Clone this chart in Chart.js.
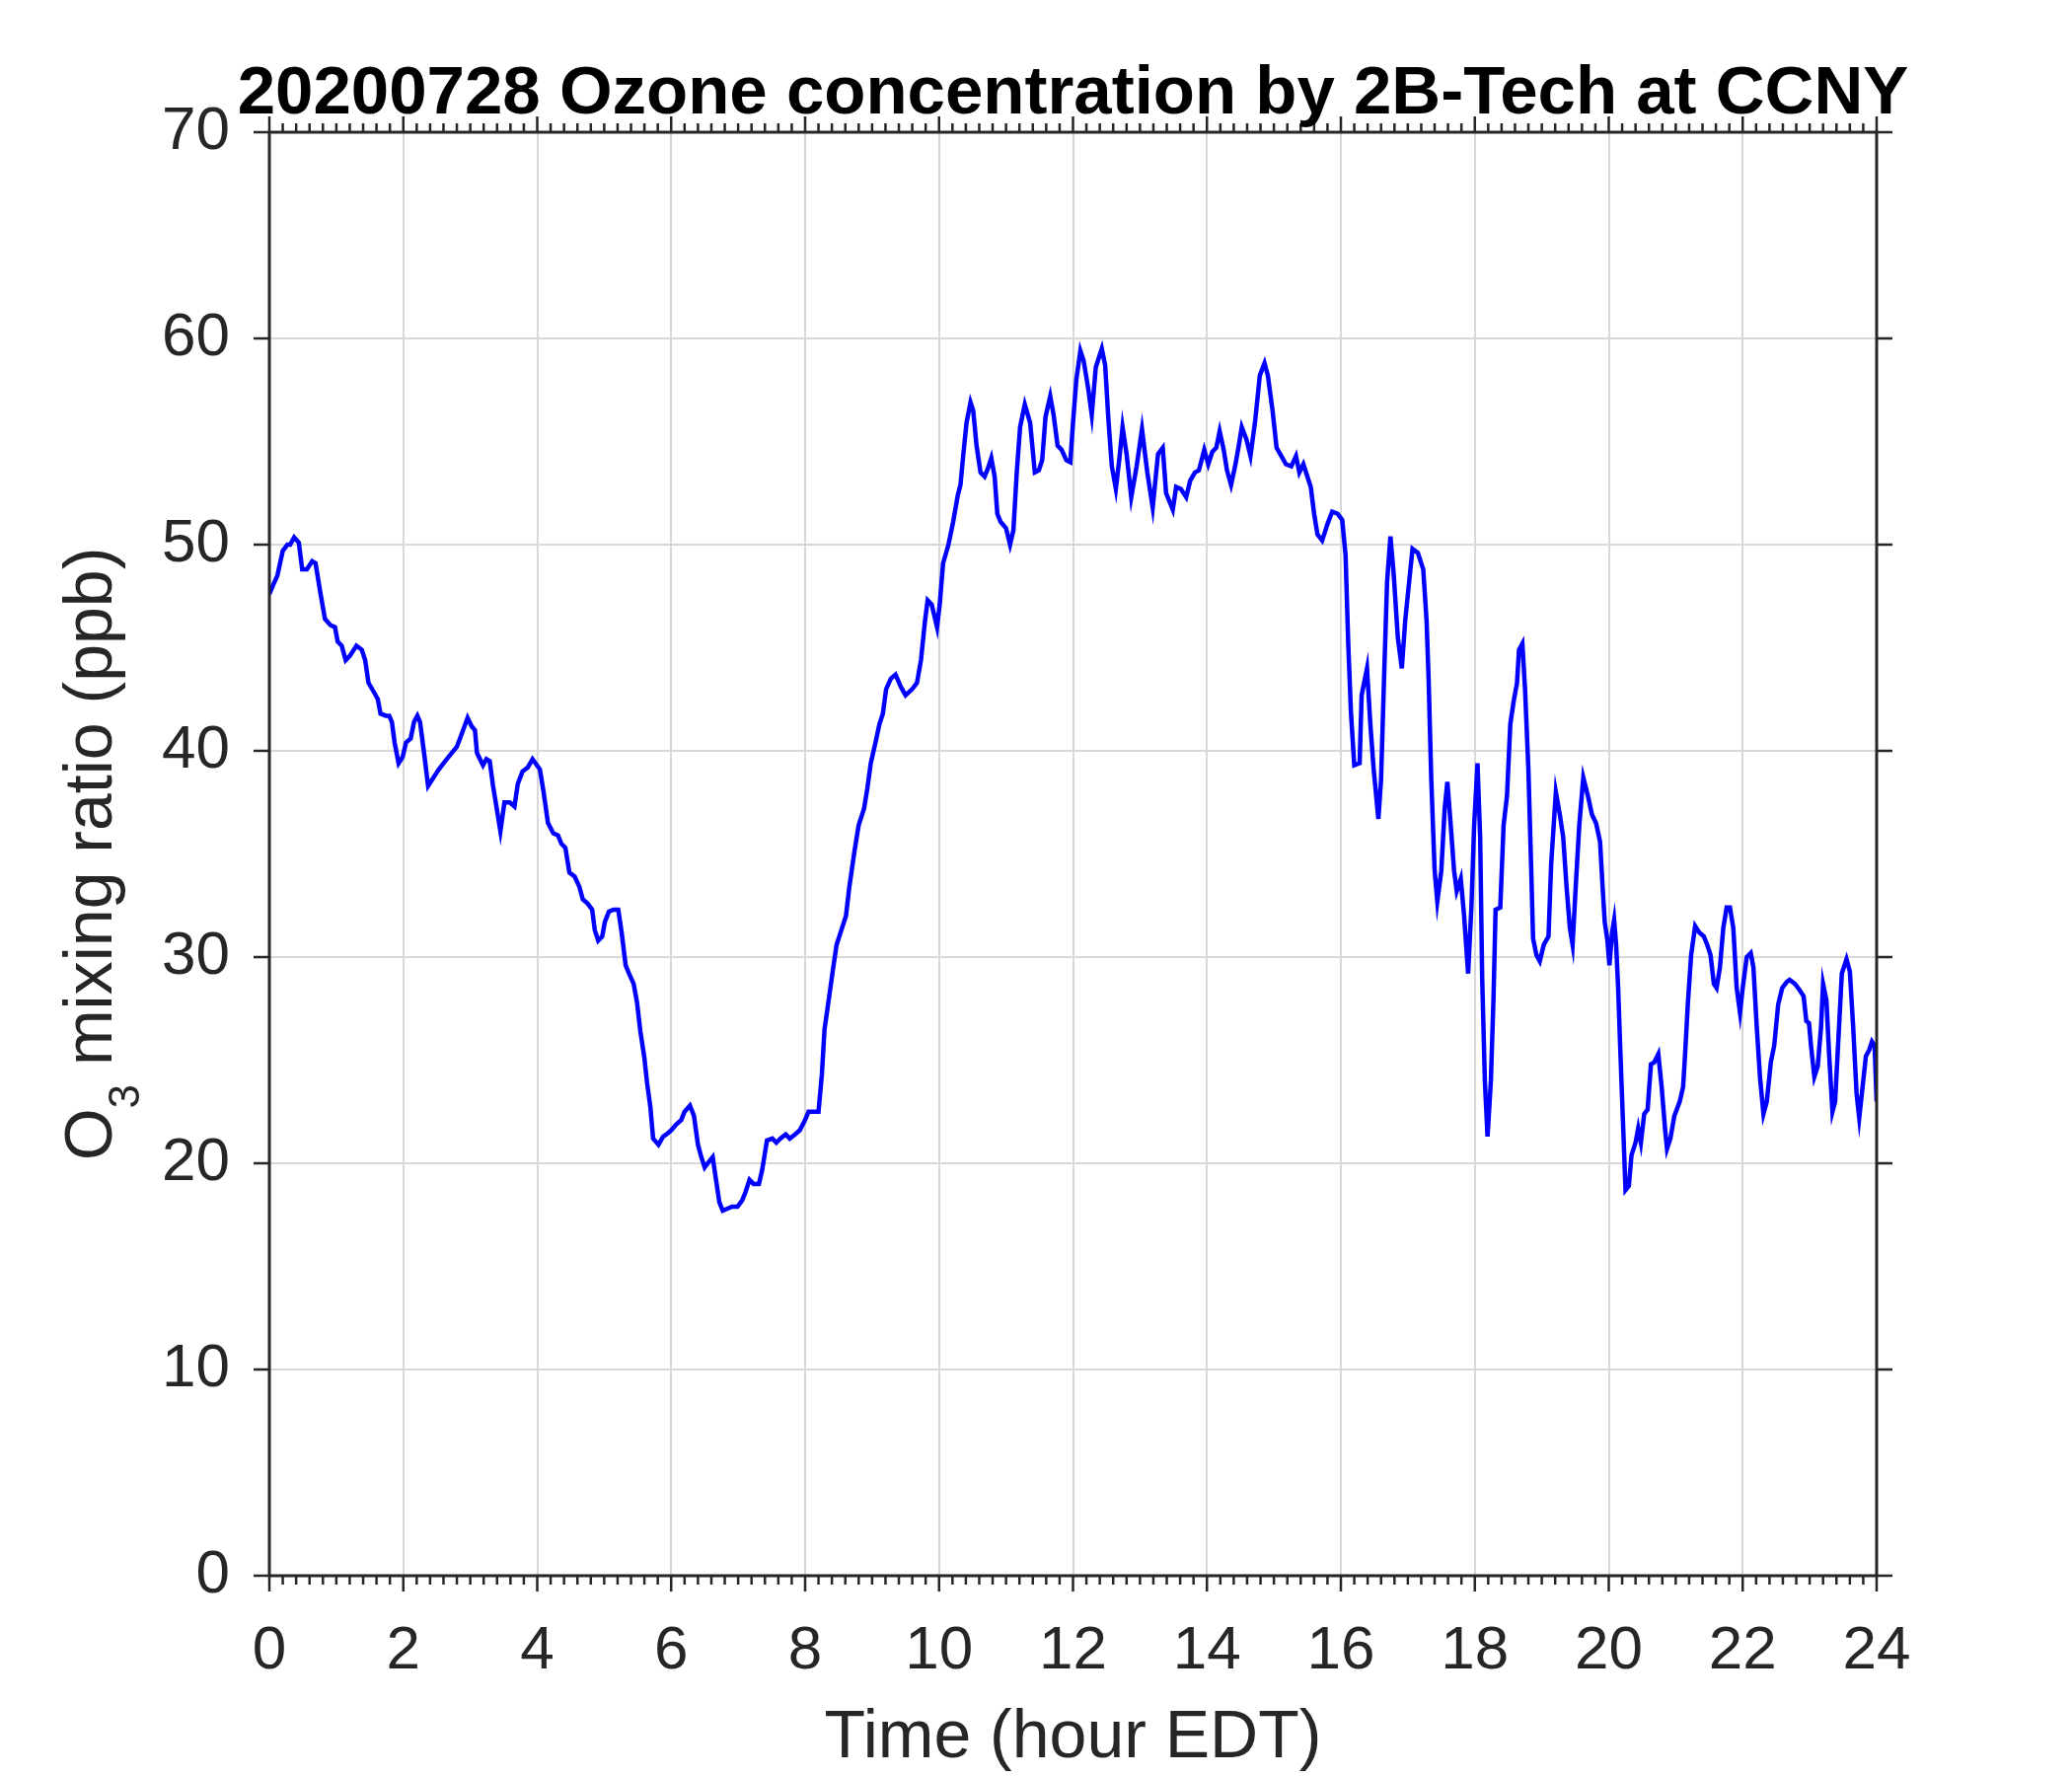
<!DOCTYPE html>
<html>
<head>
<meta charset="utf-8">
<title>20200728 Ozone concentration by 2B-Tech at CCNY</title>
<script src="https://cdn.jsdelivr.net/npm/chart.js@4.4.1/dist/chart.umd.min.js"></script>
<style>
  html, body { margin: 0; padding: 0; background: #ffffff; }
  #wrap { width: 2100px; height: 1800px; }
</style>
</head>
<body>
<div id="wrap"><canvas id="ozone" width="2100" height="1800"></canvas></div>
<script>
// time of day (hour EDT)
const hours = [
  0, 0.05, 0.12, 0.2, 0.27, 0.31, 0.37, 0.44, 0.49, 0.56, 0.64, 0.69, 0.76, 0.83, 0.91, 0.98,
  1.02, 1.08, 1.14, 1.2, 1.3, 1.38, 1.43, 1.48, 1.57, 1.62, 1.66, 1.74, 1.79, 1.83, 1.87, 1.93, 1.99,
  2.04, 2.11, 2.16, 2.21, 2.25, 2.31, 2.37, 2.43, 2.53, 2.6, 2.7, 2.8, 2.87, 2.96,
  3.02, 3.07, 3.1, 3.19, 3.24, 3.29, 3.34, 3.4, 3.45, 3.51, 3.59, 3.66, 3.71, 3.78, 3.86, 3.93,
  4.04, 4.09, 4.16, 4.24, 4.31, 4.36, 4.42, 4.48, 4.56, 4.63, 4.68, 4.75, 4.82, 4.86, 4.91, 4.97,
  5.01, 5.07, 5.14, 5.21, 5.26, 5.32, 5.37, 5.44, 5.49, 5.54, 5.6, 5.64, 5.69, 5.73, 5.81, 5.88, 5.93,
  6.0, 6.08, 6.15, 6.2, 6.28, 6.34, 6.4, 6.45, 6.5, 6.57, 6.62, 6.66, 6.72, 6.77, 6.84, 6.91, 6.99,
  7.06, 7.11, 7.17, 7.23, 7.31, 7.36, 7.43, 7.51, 7.57, 7.63, 7.71, 7.77, 7.85, 7.92,
  8.0, 8.05, 8.12, 8.2, 8.25, 8.29, 8.36, 8.42, 8.47, 8.54, 8.61, 8.66, 8.74, 8.8, 8.88, 8.93, 8.98,
  9.05, 9.11, 9.16, 9.21, 9.28, 9.35, 9.43, 9.5, 9.6, 9.67, 9.73, 9.79, 9.83, 9.89, 9.97,
  10.01, 10.06, 10.14, 10.21, 10.28, 10.32, 10.36, 10.41, 10.47, 10.51, 10.56, 10.62, 10.68, 10.73, 10.78, 10.83, 10.87, 10.92,
  11.0, 11.06, 11.11, 11.16, 11.21, 11.28, 11.36, 11.43, 11.49, 11.54, 11.59, 11.66, 11.71, 11.77, 11.83, 11.9, 11.96,
  12.0, 12.05, 12.11, 12.16, 12.23, 12.28, 12.34, 12.43, 12.48, 12.53, 12.58, 12.64, 12.69, 12.74, 12.8, 12.87, 12.95,
  13.03, 13.11, 13.19, 13.27, 13.34, 13.39, 13.49, 13.54, 13.61, 13.69, 13.75, 13.82, 13.88, 13.96,
  14.02, 14.08, 14.14, 14.19, 14.25, 14.3, 14.36, 14.42, 14.47, 14.52, 14.59, 14.65, 14.72, 14.79, 14.86, 14.91, 14.98,
  15.04, 15.11, 15.18, 15.26, 15.33, 15.38, 15.44, 15.5, 15.55, 15.6, 15.65, 15.72, 15.8, 15.87, 15.95,
  16.02, 16.07, 16.11, 16.15, 16.2, 16.28, 16.31, 16.39, 16.44, 16.49, 16.56, 16.6, 16.65, 16.69, 16.74, 16.79, 16.85, 16.91, 16.96,
  17.01, 17.07, 17.15, 17.23, 17.28, 17.31, 17.35, 17.4, 17.44, 17.5, 17.55, 17.59, 17.64, 17.69, 17.73, 17.79, 17.84, 17.9, 17.95, 17.99,
  18.04, 18.08, 18.11, 18.15, 18.19, 18.24, 18.28, 18.31, 18.38, 18.43, 18.48, 18.53, 18.58, 18.63, 18.66, 18.71, 18.75, 18.8, 18.84, 18.87, 18.92, 18.97,
  19.03, 19.1, 19.14, 19.21, 19.27, 19.32, 19.37, 19.42, 19.46, 19.51, 19.56, 19.62, 19.69, 19.75, 19.81, 19.87, 19.91, 19.94, 19.98,
  20.01, 20.05, 20.08, 20.11, 20.14, 20.17, 20.21, 20.25, 20.3, 20.34, 20.4, 20.44, 20.48, 20.53, 20.58, 20.63, 20.68, 20.74, 20.79, 20.84, 20.87, 20.92, 20.98,
  21.06, 21.11, 21.14, 21.18, 21.23, 21.29, 21.35, 21.42, 21.47, 21.52, 21.57, 21.61, 21.66, 21.71, 21.76, 21.81, 21.86, 21.91, 21.96,
  22.0, 22.06, 22.12, 22.16, 22.21, 22.26, 22.31, 22.36, 22.42, 22.47, 22.53, 22.59, 22.66, 22.7, 22.78, 22.85, 22.91, 22.95, 22.99,
  23.02, 23.07, 23.12, 23.17, 23.2, 23.25, 23.29, 23.34, 23.38, 23.43, 23.48, 23.55, 23.6, 23.65, 23.7, 23.74, 23.79, 23.84, 23.89, 23.93, 23.97, 24.0
];

// O3 mixing ratio (ppb) at those times
const o3 = [
  47.6, 48.0, 48.5, 49.7, 50.0, 50.0, 50.35, 50.1, 48.8, 48.8, 49.2, 49.1, 47.7, 46.4, 46.1, 46.0,
  45.3, 45.1, 44.4, 44.6, 45.1, 44.9, 44.4, 43.3, 42.8, 42.5, 41.8, 41.7, 41.7, 41.4, 40.4, 39.4, 39.7,
  40.4, 40.6, 41.4, 41.7, 41.4, 39.9, 38.3, 38.6, 39.1, 39.4, 39.8, 40.2, 40.8, 41.6,
  41.2, 41.0, 39.9, 39.3, 39.6, 39.5, 38.3, 37.1, 36.1, 37.5, 37.5, 37.3, 38.4, 39.0, 39.2, 39.6,
  39.1, 38.1, 36.5, 36.0, 35.9, 35.5, 35.3, 34.1, 33.9, 33.4, 32.8, 32.6, 32.3, 31.3, 30.8, 31.0,
  31.7, 32.2, 32.3, 32.3, 31.2, 29.6, 29.2, 28.7, 27.8, 26.4, 25.1, 23.9, 22.7, 21.2, 20.9, 21.3, 21.4,
  21.6, 21.9, 22.1, 22.5, 22.8, 22.3, 20.9, 20.3, 19.8, 20.1, 20.3, 19.4, 18.1, 17.7, 17.8, 17.9, 17.9,
  18.2, 18.6, 19.2, 19.0, 19.0, 19.7, 21.1, 21.2, 21.0, 21.2, 21.4, 21.2, 21.4, 21.6,
  22.1, 22.5, 22.5, 22.5, 24.3, 26.5, 28.1, 29.5, 30.6, 31.3, 32.0, 33.4, 35.2, 36.4, 37.2, 38.2, 39.4,
  40.4, 41.3, 41.8, 43.0, 43.5, 43.7, 43.1, 42.7, 43.0, 43.3, 44.4, 46.3, 47.3, 47.1, 46.0,
  47.1, 49.1, 50.0, 51.1, 52.4, 52.9, 54.3, 55.9, 56.9, 56.5, 54.8, 53.5, 53.3, 53.7, 54.2, 53.3, 51.5, 51.1,
  50.8, 50.0, 50.7, 53.5, 55.7, 56.8, 55.9, 53.5, 53.6, 54.1, 56.2, 57.2, 56.3, 54.8, 54.6, 54.1, 54.0,
  55.9, 58.0, 59.4, 58.9, 57.5, 56.3, 58.6, 59.5, 58.7, 56.0, 53.8, 52.7, 54.1, 55.7, 54.4, 52.3, 53.8,
  55.6, 53.5, 51.8, 54.4, 54.7, 52.5, 51.7, 52.8, 52.7, 52.3, 53.1, 53.5, 53.6, 54.6,
  53.9, 54.5, 54.7, 55.5, 54.6, 53.6, 52.9, 53.8, 54.7, 55.7, 55.1, 54.3, 56.0, 58.2, 58.8, 58.2, 56.5,
  54.7, 54.3, 53.9, 53.8, 54.3, 53.5, 53.9, 53.3, 52.8, 51.5, 50.5, 50.2, 51.0, 51.6, 51.5,
  51.2, 49.5, 45.2, 41.9, 39.3, 39.4, 42.7, 44.0, 41.3, 39.1, 36.7, 38.6, 44.1, 48.2, 50.4, 48.5, 45.5, 44.0, 46.3,
  47.9, 49.8, 49.6, 48.8, 46.3, 43.5, 38.6, 34.2, 32.7, 34.2, 37.2, 38.5, 36.4, 34.2, 33.2, 33.8, 32.0, 29.2, 32.5, 36.4,
  39.4, 35.8, 29.0, 24.0, 21.3, 24.0, 28.1, 32.3, 32.4, 36.4, 37.8, 41.3, 42.4, 43.3, 44.9, 45.2, 43.0, 39.1, 34.5, 30.9, 30.1, 29.8,
  30.6, 31.0, 34.5, 38.0, 36.9, 35.8, 33.4, 31.4, 30.6, 33.6, 36.4, 38.7, 37.8, 36.9, 36.5, 35.6, 33.3, 31.7, 30.8,
  29.6, 31.2, 31.8, 30.6, 28.5, 25.7, 22.2, 18.7, 18.9, 20.4, 21.0, 21.7, 21.0, 22.4, 22.6, 24.8, 24.9, 25.3, 23.7, 21.7, 20.7, 21.2, 22.3,
  23.0, 23.7, 25.3, 27.7, 30.1, 31.5, 31.2, 31.0, 30.6, 30.1, 28.7, 28.5, 29.5, 31.4, 32.4, 32.4, 31.4, 28.5, 27.3,
  28.5, 30.0, 30.2, 29.5, 26.6, 24.1, 22.4, 23.0, 24.9, 25.7, 27.7, 28.5, 28.8, 28.9, 28.7, 28.4, 28.1, 26.9, 26.8,
  25.7, 24.2, 24.7, 26.6, 28.7, 27.9, 25.3, 22.5, 23.0, 26.1, 29.2, 29.9, 29.3, 26.6, 23.4, 22.2, 23.7, 25.2, 25.5, 25.9, 25.7, 23.0
];

// axis tick labels
const hourTicks = [0, 2, 4, 6, 8, 10, 12, 14, 16, 18, 20, 22, 24];
const ppbTicks = [0, 10, 20, 30, 40, 50, 60, 70];

const titleText = '20200728 Ozone concentration by 2B-Tech at CCNY';
const xTitle = 'Time (hour EDT)';

const axisColor = '#262626';
const FONT = '"Liberation Sans", Arial, Helvetica, sans-serif';

// frame, outward ticks (top/bottom/left/right) and the titles, matlab style
const matlabAxes = {
  id: 'matlabAxes',
  afterDraw(chart) {
    const { ctx, chartArea: a, scales } = chart;
    const xs = scales.x, ys = scales.y;
    ctx.save();
    ctx.strokeStyle = axisColor;
    ctx.lineWidth = 3;
    ctx.strokeRect(a.left, a.top, a.right - a.left, a.bottom - a.top);

    ctx.lineWidth = 2.5;
    ctx.beginPath();
    // minor x ticks every 0.2 h
    for (let i = 0; i < hourTicks.length - 1; i++) {
      for (let k = 1; k < 10; k++) {
        const px = xs.getPixelForValue(hourTicks[i] + k * (hourTicks[i + 1] - hourTicks[i]) / 10);
        ctx.moveTo(px, a.bottom); ctx.lineTo(px, a.bottom + 9);
        ctx.moveTo(px, a.top); ctx.lineTo(px, a.top - 9);
      }
    }
    hourTicks.forEach(v => {
      const px = xs.getPixelForValue(v);
      ctx.moveTo(px, a.bottom); ctx.lineTo(px, a.bottom + 16);
      ctx.moveTo(px, a.top); ctx.lineTo(px, a.top - 16);
    });
    ppbTicks.forEach(v => {
      const py = ys.getPixelForValue(v);
      ctx.moveTo(a.left, py); ctx.lineTo(a.left - 16, py);
      ctx.moveTo(a.right, py); ctx.lineTo(a.right + 16, py);
    });
    ctx.stroke();

    const cx = (a.left + a.right) / 2;
    const cy = (a.top + a.bottom) / 2;

    // title
    ctx.fillStyle = '#000000';
    ctx.textAlign = 'center';
    ctx.textBaseline = 'alphabetic';
    ctx.font = 'bold 69px ' + FONT;
    ctx.fillText(titleText, cx, 115);

    // x label
    ctx.fillStyle = axisColor;
    ctx.font = '68px ' + FONT;
    ctx.fillText(xTitle, cx, 1781);

    // y label with subscript 3
    const big = '68px ' + FONT, small = '44px ' + FONT;
    ctx.font = big;
    const wO = ctx.measureText('O').width;
    const wRest = ctx.measureText(' mixing ratio (ppb)').width;
    ctx.font = small;
    const w3 = ctx.measureText('3').width;
    const total = wO + w3 + wRest;
    ctx.translate(113, cy);
    ctx.rotate(-Math.PI / 2);
    ctx.textAlign = 'left';
    let x0 = -total / 2;
    ctx.font = big;
    ctx.fillText('O', x0, 0);
    ctx.font = small;
    ctx.fillText('3', x0 + wO, 28);
    ctx.font = big;
    ctx.fillText(' mixing ratio (ppb)', x0 + wO + w3, 0);
    ctx.restore();
  }
};

const ctx = document.getElementById('ozone');

new Chart(ctx, {
  type: 'line',
  data: {
    datasets: [{
      label: 'O3',
      data: hours.map((h, i) => ({ x: h, y: o3[i] })),
      borderColor: '#0000ff',
      borderWidth: 4.5,
      pointRadius: 0,
      tension: 0,
      fill: false
    }]
  },
  options: {
    responsive: false,
    animation: false,
    layout: { padding: { left: 0, top: 134, right: 198, bottom: 0 } },
    plugins: {
      legend: { display: false },
      tooltip: { enabled: false },
      title: { display: false }
    },
    scales: {
      x: {
        type: 'linear',
        min: 0,
        max: 24,
        afterBuildTicks: s => { s.ticks = hourTicks.map(v => ({ value: v })); },
        afterFit: s => { s.height = 203; },
        grid: { color: '#d8d8d8', lineWidth: 2, drawTicks: false, tickLength: 0 },
        border: { display: false },
        ticks: {
          color: axisColor,
          font: { family: FONT, size: 62 },
          padding: 40,
          maxRotation: 0,
          autoSkip: false
        }
      },
      y: {
        type: 'linear',
        min: 0,
        max: 70,
        afterBuildTicks: s => { s.ticks = ppbTicks.map(v => ({ value: v })); },
        afterFit: s => { s.width = 273; },
        grid: { color: '#d8d8d8', lineWidth: 2, drawTicks: false, tickLength: 0 },
        border: { display: false },
        ticks: {
          color: axisColor,
          font: { family: FONT, size: 62 },
          padding: 40,
          autoSkip: false
        }
      }
    }
  },
  plugins: [matlabAxes]
});
</script>
</body>
</html>
